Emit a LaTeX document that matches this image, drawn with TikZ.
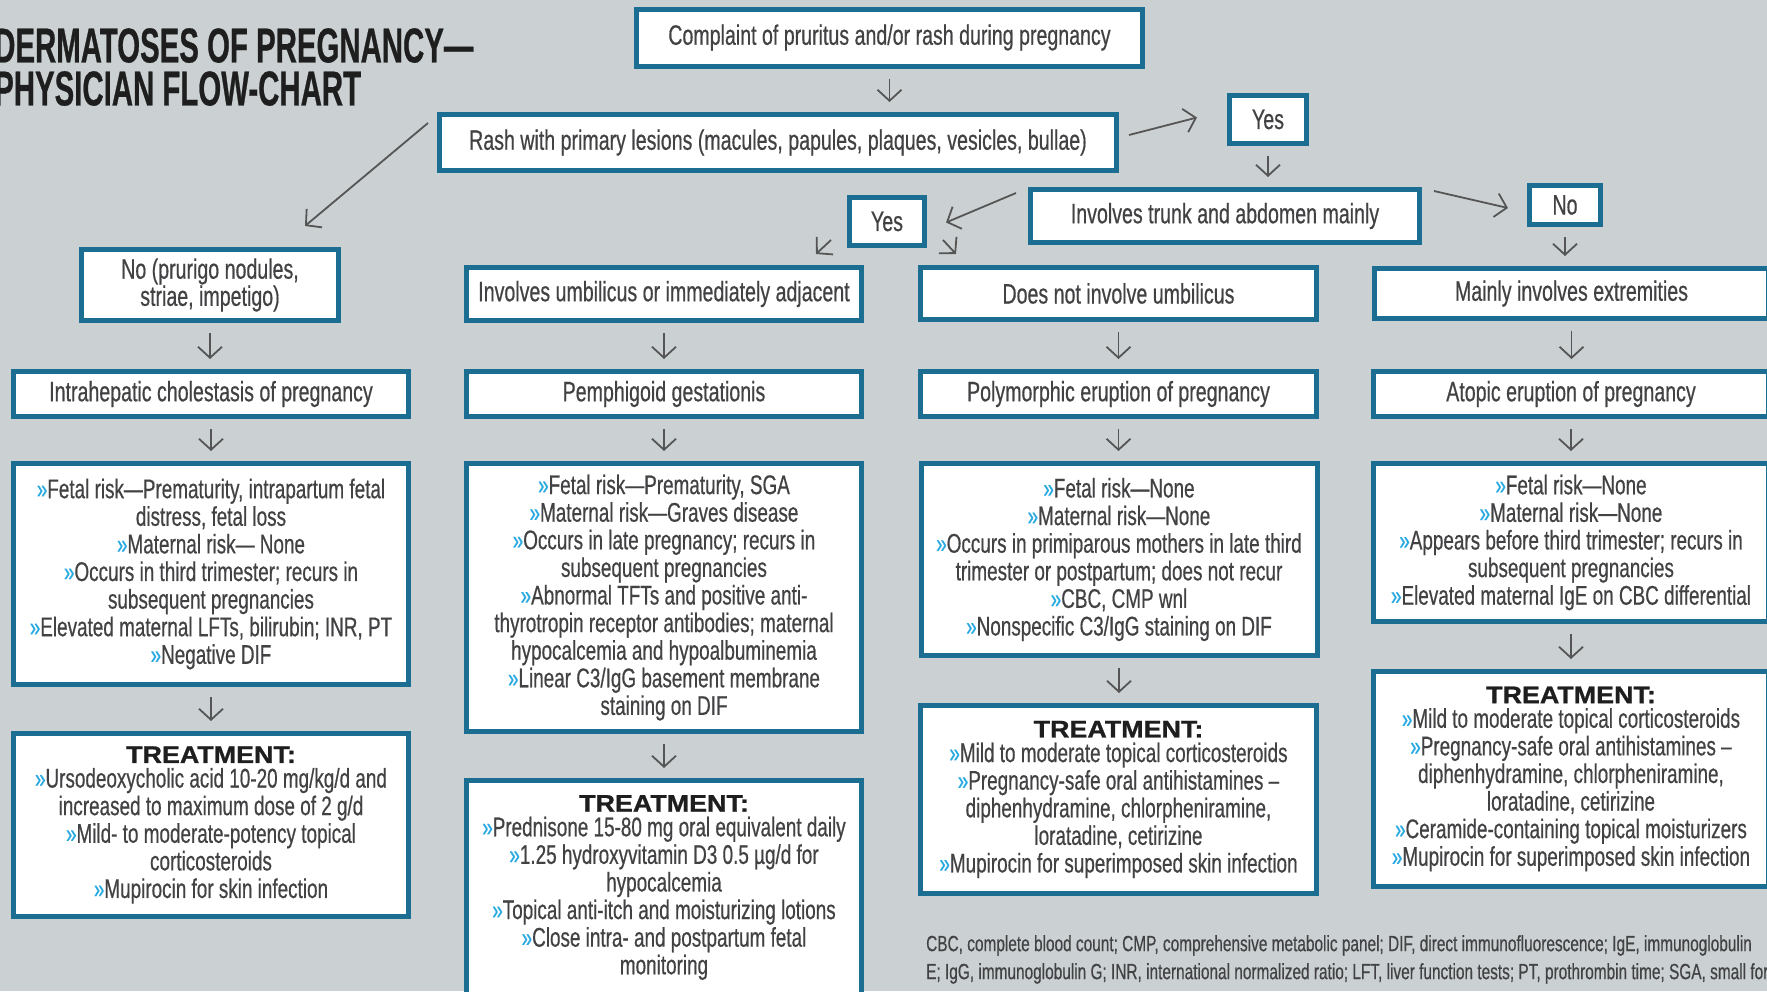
\documentclass[tikz,border=0pt]{standalone}
\usepackage{fontspec}
\setmainfont{Liberation Sans}[FakeStretch=0.70,FakeBold=0.5]
\newfontfamily\titlefont{Liberation Sans}[FakeStretch=0.60,FakeBold=0.5]
\newfontfamily\headfont{Liberation Sans}[FakeStretch=1.12,FakeBold=1]
\usetikzlibrary{arrows.meta,calc}
\definecolor{bggray}{RGB}{203,209,210}
\definecolor{boxblue}{RGB}{27,110,145}
\definecolor{textgray}{RGB}{66,66,68}
\definecolor{arrowgray}{RGB}{85,85,85}
\definecolor{bulletblue}{RGB}{41,171,226}
\definecolor{headblack}{RGB}{30,30,30}
\newcommand{\bul}{\textcolor{bulletblue}{»}}
\newcommand{\treat}{{\headfont\bfseries\fontsize{24}{24}\selectfont\color{headblack}TREATMENT:}}

\begin{document}
\begin{tikzpicture}[x=1pt,y=-1pt,>={Straight Barb[length=11pt,width=24pt]},
  link/.style={->,draw=arrowgray,line width=1.8pt},
  vlink/.style={link,shorten <=10pt,shorten >=10pt},
  box/.style={draw=boxblue,line width=5pt,fill=white,inner sep=0pt,align=center,
    text=textgray,font=\fontsize{28}{25}\selectfont},
  info box/.style={box,font=\fontsize{27}{27.6}\selectfont}]

  \useasboundingbox (0,0) rectangle (1767,991);
  \fill[bggray] (0,0) rectangle (1767,991);
  \clip (0,0) rectangle (1767,991);

  % title
  \node[anchor=north west,inner sep=0pt,align=left,text=headblack,
    font=\titlefont\bfseries\fontsize{49}{43}\selectfont] (title) at (-6,28)
    {DERMATOSES OF PREGNANCY—\\PHYSICIAN FLOW-CHART};

  % top of the chart
  \node[box,minimum width=506pt,minimum height=57pt] (complaint) at (889.5,37.5)
    {Complaint of pruritus and/or rash during pregnancy};
  \node[box,minimum width=677pt,minimum height=56pt] (rash) at (778,142.5)
    {Rash with primary lesions (macules, papules, plaques, vesicles, bullae)};
  \node[box,minimum width=77pt,minimum height=48pt] (yestop) at (1268,119.5) {Yes};
  \node[box,minimum width=389pt,minimum height=53pt] (trunk) at (1225,216)
    {Involves trunk and abdomen mainly};
  \node[box,minimum width=71pt,minimum height=39pt] (notrunk) at (1565,205) {No};
  \node[box,minimum width=75pt,minimum height=48pt] (yesmid) at (887,221.5) {Yes};

  % first row
  \node[box,minimum width=257pt,minimum height=71pt] (nolesion) at (210,285)
    {No (prurigo nodules,\\striae, impetigo)};
  \node[box,minimum width=395pt,minimum height=53pt] (umb) at (664,294)
    {Involves umbilicus or immediately adjacent};
  \node[box,minimum width=396pt,minimum height=52pt] (notumb) at (1118.5,293.5)
    {Does not involve umbilicus};
  \node[box,minimum width=394pt,minimum height=50pt] (extrem) at (1571.5,293.5)
    {Mainly involves extremities};

  % diagnoses
  \node[box,minimum width=395pt,minimum height=45pt] (ich) at (211,394)
    {Intrahepatic cholestasis of pregnancy};
  \node[box,minimum width=395pt,minimum height=45pt] (pg) at (664,394)
    {Pemphigoid gestationis};
  \node[box,minimum width=396pt,minimum height=45pt] (pep) at (1118.5,394)
    {Polymorphic eruption of pregnancy};
  \node[box,minimum width=395pt,minimum height=45pt] (aep) at (1571,394)
    {Atopic eruption of pregnancy};

  % findings
  \node[info box,minimum width=395pt,minimum height=221pt] (ichinfo) at (211,574)
    {\bul Fetal risk—Prematurity, intrapartum fetal\\distress, fetal loss\\
     \bul Maternal risk— None\\
     \bul Occurs in third trimester; recurs in\\subsequent pregnancies\\
     \bul Elevated maternal LFTs, bilirubin; INR, PT\\
     \bul Negative DIF};
  \node[info box,minimum width=395pt,minimum height=268pt] (pginfo) at (664,597.5)
    {\bul Fetal risk—Prematurity, SGA\\
     \bul Maternal risk—Graves disease\\
     \bul Occurs in late pregnancy; recurs in\\subsequent pregnancies\\
     \bul Abnormal TFTs and positive anti-\\thyrotropin receptor antibodies; maternal\\
     hypocalcemia and hypoalbuminemia\\
     \bul Linear C3/IgG basement membrane\\staining on DIF};
  \node[info box,minimum width=396pt,minimum height=192pt] (pepinfo) at (1119,559.5)
    {\bul Fetal risk—None\\
     \bul Maternal risk—None\\
     \bul Occurs in primiparous mothers in late third\\trimester or postpartum; does not recur\\
     \bul CBC, CMP wnl\\
     \bul Nonspecific C3/IgG staining on DIF};
  \node[info box,minimum width=395pt,minimum height=158pt] (aepinfo) at (1571,542.5)
    {\bul Fetal risk—None\\
     \bul Maternal risk—None\\
     \bul Appears before third trimester; recurs in\\subsequent pregnancies\\
     \bul Elevated maternal IgE on CBC differential};

  % treatment
  \node[info box,minimum width=395pt,minimum height=183pt] (ichtreat) at (211,825)
    {\treat\\[-3pt]
     \bul Ursodeoxycholic acid 10-20 mg/kg/d and\\increased to maximum dose of 2 g/d\\
     \bul Mild- to moderate-potency topical\\corticosteroids\\
     \bul Mupirocin for skin infection};
  \node[info box,minimum width=395pt,minimum height=214pt] (pgtreat) at (664,887.5)
    {\treat\\[-3pt]
     \bul Prednisone 15-80 mg oral equivalent daily\\
     \bul 1.25 hydroxyvitamin D3 0.5 µg/d for\\hypocalcemia\\
     \bul Topical anti-itch and moisturizing lotions\\
     \bul Close intra- and postpartum fetal\\monitoring};
  \node[info box,minimum width=396pt,minimum height=188pt] (peptreat) at (1118.5,799.5)
    {\treat\\[-3pt]
     \bul Mild to moderate topical corticosteroids\\
     \bul Pregnancy-safe oral antihistamines –\\diphenhydramine, chlorpheniramine,\\
     loratadine, cetirizine\\
     \bul Mupirocin for superimposed skin infection};
  \node[info box,minimum width=395pt,minimum height=215pt] (aeptreat) at (1571,779)
    {\treat\\[-3pt]
     \bul Mild to moderate topical corticosteroids\\
     \bul Pregnancy-safe oral antihistamines –\\diphenhydramine, chlorpheniramine,\\
     loratadine, cetirizine\\
     \bul Ceramide-containing topical moisturizers\\
     \bul Mupirocin for superimposed skin infection};

  % abbreviations
  \node[anchor=north west,inner sep=0pt,align=left,text=textgray,
    font=\fontsize{22}{28}\selectfont] (abbrev) at (926,935)
    {CBC, complete blood count; CMP, comprehensive metabolic panel; DIF, direct immunofluorescence; IgE, immunoglobulin\\
     E; IgG, immunoglobulin G; INR, international normalized ratio; LFT, liver function tests; PT, prothrombin time; SGA, small for};

  % connectors
  \draw[vlink] (complaint.south) -- (complaint.south |- rash.north);
  \draw[link] ($(rash.north west)+(-9,11)$) -- ($(nolesion.north east)+(-36,-21)$);
  \draw[link] ($(rash.north east)+(10,23)$) -- ($(yestop.west)+(-30,-2)$);
  \draw[vlink] (yestop.south) -- (yestop.south |- trunk.north);
  \draw[link] ($(trunk.north east)+(12,4)$) -- ($(notrunk.west)+(-19,3)$);
  \draw[vlink] (notrunk.south) -- (notrunk.south |- extrem.north);
  \draw[link] ($(trunk.north west)+(-12,6)$) -- ($(yesmid.east)+(19,1)$);
  \draw[link] ($(yesmid.south west)+(-16,-8)$) -- ($(umb.north east)+(-48,-11)$);
  \draw[link] ($(yesmid.south east)+(16,-8)$) -- ($(notumb.north west)+(38,-11)$);

  \draw[vlink] (nolesion.south) -- (nolesion.south |- ich.north);
  \draw[vlink] (umb.south) -- (umb.south |- pg.north);
  \draw[vlink] (notumb.south) -- (notumb.south |- pep.north);
  \draw[vlink] (extrem.south) -- (extrem.south |- aep.north);

  \draw[vlink] (ich.south) -- (ich.south |- ichinfo.north);
  \draw[vlink] (pg.south) -- (pg.south |- pginfo.north);
  \draw[vlink] (pep.south) -- (pep.south |- pepinfo.north);
  \draw[vlink] (aep.south) -- (aep.south |- aepinfo.north);

  \draw[vlink] (ichinfo.south) -- (ichinfo.south |- ichtreat.north);
  \draw[vlink] (pginfo.south) -- (pginfo.south |- pgtreat.north);
  \draw[vlink] (pepinfo.south) -- (pepinfo.south |- peptreat.north);
  \draw[vlink] (aepinfo.south) -- (aepinfo.south |- aeptreat.north);
\end{tikzpicture}
\end{document}
